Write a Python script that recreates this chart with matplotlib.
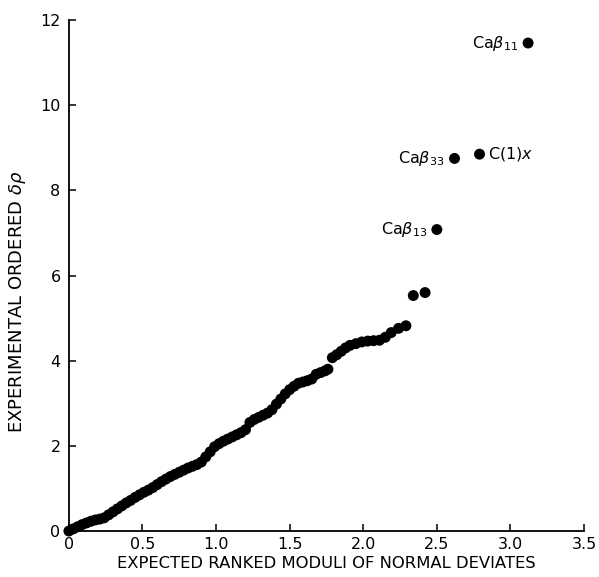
import numpy as np
import matplotlib
matplotlib.use("Agg")
import matplotlib.pyplot as plt

# half-normal probability plot
x_exp = [0.00, 0.03, 0.06, 0.09, 0.12, 0.15, 0.18, 0.21, 0.24, 0.27,
         0.30, 0.33, 0.36, 0.39, 0.42, 0.45, 0.48, 0.51, 0.54, 0.57,
         0.60, 0.63, 0.66, 0.69, 0.72, 0.75, 0.78, 0.81, 0.84, 0.87,
         0.90, 0.93, 0.96, 0.99, 1.02, 1.05, 1.08, 1.11, 1.14, 1.17,
         1.20, 1.23, 1.26, 1.29, 1.32, 1.35, 1.38, 1.41, 1.44, 1.47,
         1.50, 1.53, 1.56, 1.59, 1.62, 1.65, 1.68, 1.71, 1.74, 1.76,
         1.79, 1.82, 1.85, 1.88, 1.91, 1.95, 1.99, 2.03, 2.07, 2.11,
         2.15, 2.19, 2.24, 2.29, 2.34, 2.42, 2.50, 2.62, 2.79, 3.12]
y_obs = [0.00, 0.05, 0.10, 0.15, 0.19, 0.23, 0.26, 0.28, 0.31, 0.38,
         0.45, 0.52, 0.59, 0.66, 0.72, 0.79, 0.85, 0.91, 0.96, 1.02,
         1.09, 1.16, 1.22, 1.28, 1.33, 1.38, 1.43, 1.48, 1.52, 1.56,
         1.62, 1.74, 1.86, 1.98, 2.05, 2.11, 2.16, 2.21, 2.26, 2.31,
         2.38, 2.55, 2.62, 2.67, 2.72, 2.77, 2.85, 2.98, 3.10, 3.22,
         3.32, 3.40, 3.47, 3.50, 3.53, 3.57, 3.68, 3.72, 3.76, 3.80,
         4.07, 4.14, 4.22, 4.30, 4.36, 4.40, 4.44, 4.46, 4.47, 4.48,
         4.55, 4.66, 4.76, 4.82, 5.53, 5.60, 7.08, 8.75, 8.85, 11.46]

# labelled outliers
lab_x = [3.12, 2.79, 2.62, 2.50]
lab_y = [11.46, 8.85, 8.75, 7.08]
lab_txt = [r'Ca$\beta_{11}$', r'C(1)$x$', r'Ca$\beta_{33}$', r'Ca$\beta_{13}$']
lab_side = ['left', 'right', 'left', 'left']

fig = plt.figure(figsize=(5.99, 5.77), dpi=100)
ax = fig.add_axes([0.115, 0.0797, 0.86, 0.8856])

ax.scatter(x_exp, y_obs, s=62, color='black', edgecolors='none', clip_on=False, zorder=3)

for xx, yy, t, side in zip(lab_x, lab_y, lab_txt, lab_side):
    if side == 'left':
        ax.annotate(t, (xx, yy), xytext=(-7, 0), textcoords='offset points',
                    ha='right', va='center', fontsize=11.5)
    else:
        ax.annotate(t, (xx, yy), xytext=(6, 0), textcoords='offset points',
                    ha='left', va='center', fontsize=11.5)

ax.set_xlim(0, 3.5)
ax.set_ylim(0, 12)
ax.set_xticks(np.arange(0, 3.51, 0.5))
ax.set_xticklabels(['0', '0.5', '1.0', '1.5', '2.0', '2.5', '3.0', '3.5'])
ax.set_yticks(np.arange(0, 13, 2))

ax.spines['top'].set_visible(False)
ax.spines['right'].set_visible(False)
ax.spines['left'].set_linewidth(1.3)
ax.spines['bottom'].set_linewidth(1.3)
ax.tick_params(direction='in', length=5, width=1.1, labelsize=11.5)
ax.tick_params(axis='y', pad=6)
ax.tick_params(axis='x', pad=4)

ax.set_xlabel('EXPECTED RANKED MODULI OF NORMAL DEVIATES', fontsize=11.8, labelpad=3)
ax.set_ylabel(r'EXPERIMENTAL ORDERED $\delta\rho$', fontsize=13)
ax.yaxis.set_label_coords(-0.08, 0.448)

fig.savefig('out.png', dpi=100)
